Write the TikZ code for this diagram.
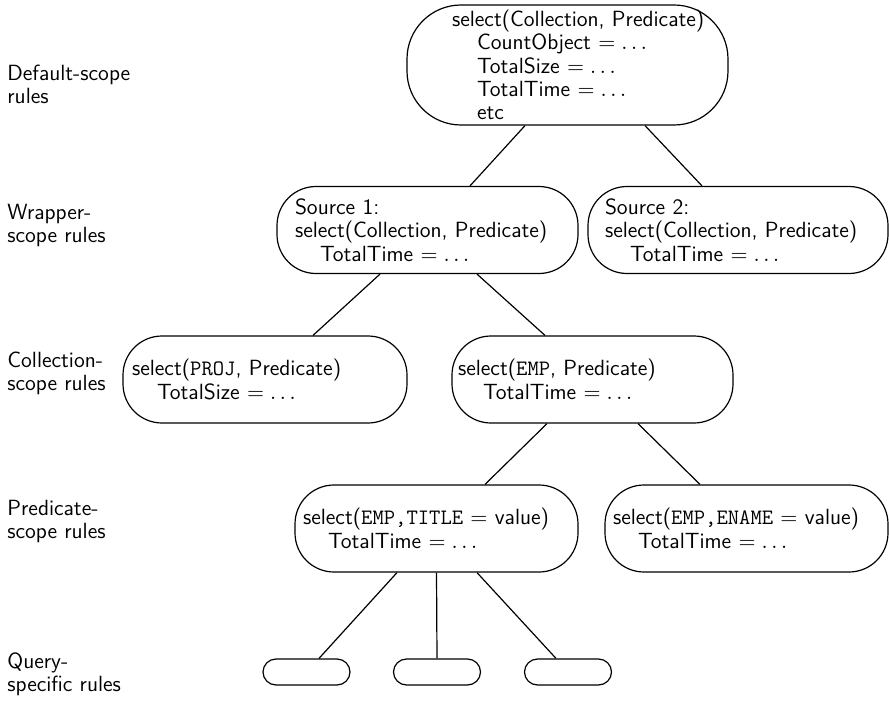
\documentclass[tikz,border=0pt]{standalone}
\usepackage{tikz}
\usetikzlibrary{calc}
\newcommand{\rulefont}{\sffamily\fontsize{11}{11.7}\selectfont}
\newcommand{\subind}{\hspace*{12.5pt}}
\tikzset{
  scopebox/.style={
    draw,
    line width=0.6pt,
    rounded corners=19.5pt,
    minimum height=43.5pt,
    inner ysep=1pt,
    align=left,
    font=\rulefont
  },
  leafbox/.style={
    draw,
    line width=0.6pt,
    rounded corners=6.5pt,
    minimum width=43.5pt,
    minimum height=13pt,
    inner sep=0pt
  },
  rulelabel/.style={
    anchor=west,
    align=left,
    inner sep=0pt,
    font=\rulefont
  },
  edge/.style={
    line width=0.6pt
  }
}

\begin{document}
\begin{tikzpicture}[x=0.5pt, y=-0.5pt]
  \useasboundingbox (0,0) rectangle (889,706);
  % rule levels
  \node[rulelabel] (lbldefault) at (7,84.5) {Default-scope\\rules};
  \node[rulelabel] (lblwrapper) at (7,225.5) {Wrapper-\\scope rules};
  \node[rulelabel] (lblcoll) at (7,373.5) {Collection-\\scope rules};
  \node[rulelabel] (lblpred) at (7,521.5) {Predicate-\\scope rules};
  \node[rulelabel] (lblquery) at (7,674.5) {Query-\\specific rules};

  % tree
  \node[scopebox, rounded corners=27pt, minimum height=60pt,
        inner xsep=6.5pt, text width=147.5pt] (root) at (567.5,65)
    {\hspace*{16pt}select(Collection,~Predicate)\\
     \hspace*{16pt}\subind CountObject $=\ldots$\\
     \hspace*{16pt}\subind TotalSize $=\ldots$\\
     \hspace*{16pt}\subind TotalTime $=\ldots$\\
     \hspace*{16pt}\subind etc};
  \node[scopebox, inner xsep=9pt, text width=132.5pt] (src1) at (427.5,230)
    {Source 1:\\select(Collection,~Predicate)\\\subind TotalTime $=\ldots$};
  \node[scopebox, inner xsep=8.5pt, text width=133pt] (src2) at (738,230)
    {Source 2:\\select(Collection,~Predicate)\\\subind TotalTime $=\ldots$};
  \node[scopebox, inner xsep=4.5pt, text width=133pt] (proj) at (265,379.5)
    {select(\texttt{PROJ}, Predicate)\\\subind TotalSize $=\ldots$};
  \node[scopebox, inner xsep=3pt, text width=134.5pt] (emp) at (592.5,379.5)
    {select(\texttt{EMP}, Predicate)\\\subind TotalTime $=\ldots$};
  \node[scopebox, inner xsep=4pt, text width=133.5pt] (title) at (436.5,528.5)
    {select(\texttt{EMP,TITLE}~$=$ value)\\\subind TotalTime $=\ldots$};
  \node[scopebox, inner xsep=4pt, text width=133.5pt] (ename) at (746.5,528.5)
    {select(\texttt{EMP,ENAME}~$=$ value)\\\subind TotalTime $=\ldots$};
  \foreach \i/\x in {1/306.5, 2/437, 3/568}
    \node[leafbox] (leaf\i) at (\x,672) {};

  \draw[edge] ($(root.south)+(-42.5,0)$) -- ($(src1.north)+(42.5,0)$);
  \draw[edge] ($(root.south)+(77.5,0)$) -- ($(src2.north)+(-36,0)$);
  \draw[edge] ($(src1.south)+(-47.5,0)$) -- ($(proj.north)+(48,0)$);
  \draw[edge] ($(src1.south)+(49.5,0)$) -- ($(emp.north)+(-47.5,0)$);
  \draw[edge] ($(emp.south)+(-45.5,0)$) -- ($(title.north)+(48.5,0)$);
  \draw[edge] ($(emp.south)+(45.5,0)$) -- ($(ename.north)+(-46.5,0)$);
  \foreach \i/\a/\b in {1/-39.5/12.5, 2/0/0, 3/40.5/-12}
    \draw[edge] ($(title.south)+(\a,0)$) -- ($(leaf\i.north)+(\b,0)$);
\end{tikzpicture}
\end{document}
